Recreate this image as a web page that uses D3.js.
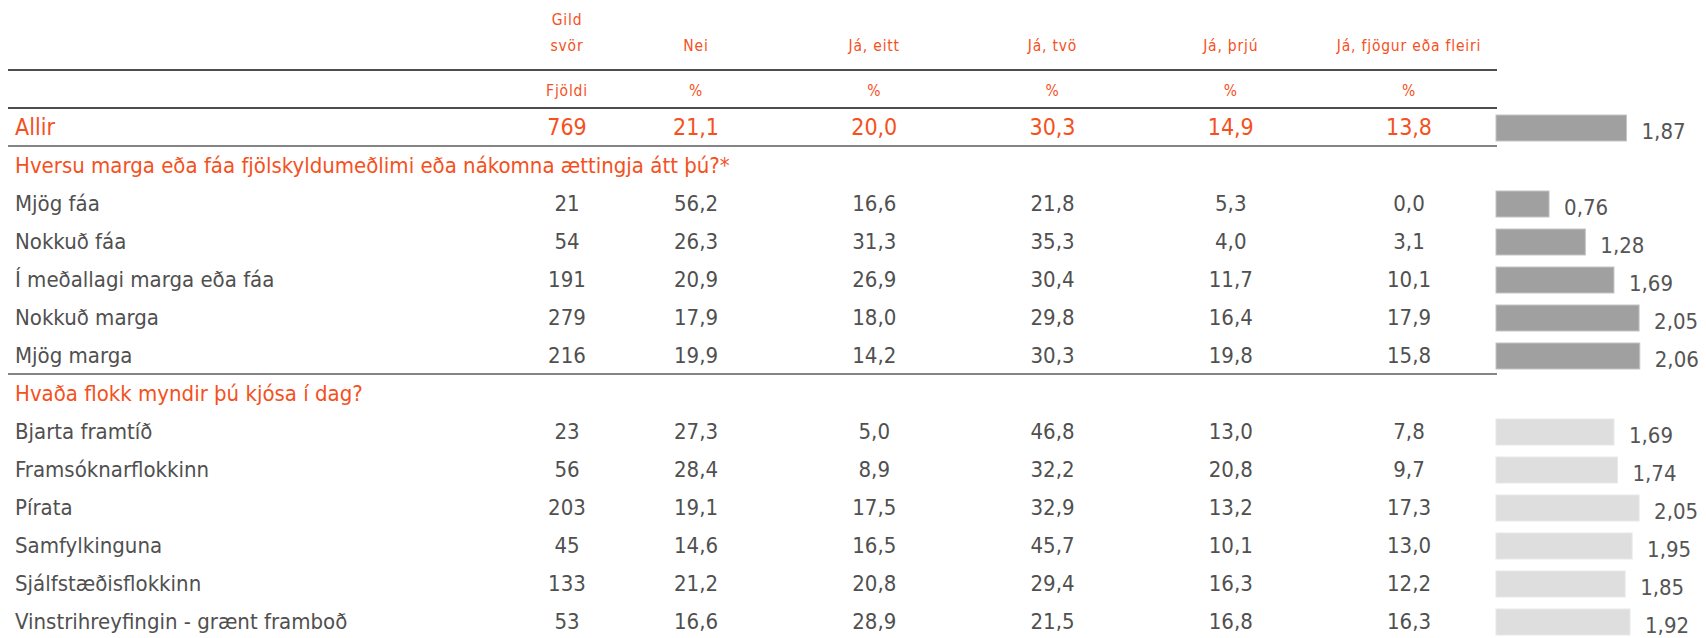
<!DOCTYPE html>
<html>
<meta charset="utf-8">
<head>
  <script src="https://cdnjs.cloudflare.com/ajax/libs/d3/7.8.5/d3.min.js"></script>
  <style>
    body { margin: 0; background: #fff; }
    text { font-family: "Liberation Sans Narrow", "DejaVu Sans Condensed", sans-serif; }
  </style>
</head>
<body>
<script>
  // table data
  const columns = ["Nei", "Já, eitt", "Já, tvö", "Já, þrjú", "Já, fjögur eða fleiri"];
  const sections = ["Hversu marga eða fáa fjölskyldumeðlimi eða nákomna ættingja átt þú?*", "Hvaða flokk myndir þú kjósa í dag?"];
  const groups = ["Mjög fáa", "Nokkuð fáa", "Í meðallagi marga eða fáa", "Nokkuð marga", "Mjög marga"];
  const parties = ["Bjarta framtíð", "Framsóknarflokkinn", "Pírata", "Samfylkinguna", "Sjálfstæðisflokkinn", "Vinstrihreyfingin - grænt framboð"];

  const totalN = 769;
  const totalPct = [21.1, 20.0, 30.3, 14.9, 13.8];
  const totalMean = 1.87;

  const groupN = [21, 54, 191, 279, 216];
  const groupPct = [
    [56.2, 16.6, 21.8, 5.3, 0.0],
    [26.3, 31.3, 35.3, 4.0, 3.1],
    [20.9, 26.9, 30.4, 11.7, 10.1],
    [17.9, 18.0, 29.8, 16.4, 17.9],
    [19.9, 14.2, 30.3, 19.8, 15.8]
  ];
  const groupMean = [0.76, 1.28, 1.69, 2.05, 2.06];

  const partyN = [23, 56, 203, 45, 133, 53];
  const partyPct = [
    [27.3, 5.0, 46.8, 13.0, 7.8],
    [28.4, 8.9, 32.2, 20.8, 9.7],
    [19.1, 17.5, 32.9, 13.2, 17.3],
    [14.6, 16.5, 45.7, 10.1, 13.0],
    [21.2, 20.8, 29.4, 16.3, 12.2],
    [16.6, 28.9, 21.5, 16.8, 16.3]
  ];
  const partyMean = [1.69, 1.74, 2.05, 1.95, 1.85, 1.92];

  const width = 1706, height = 638;
  const orange = "#f4511e", grey = "#505050";
  const fmt = v => d3.format(".1f")(v).replace(".", ",");
  const fmt2 = v => d3.format(".2f")(v).replace(".", ",");

  // build rows
  const rows = [];
  rows.push({key: "Allir", label: "Allir", n: totalN, pct: totalPct, mean: totalMean, type: "total"});
  rows.push({key: "s0", label: sections[0], type: "section"});
  groups.forEach((g, i) => rows.push({key: "g" + i, label: g, n: groupN[i], pct: groupPct[i], mean: groupMean[i], type: "group"}));
  rows.push({key: "s1", label: sections[1], type: "section"});
  parties.forEach((p, i) => rows.push({key: "p" + i, label: p, n: partyN[i], pct: partyPct[i], mean: partyMean[i], type: "party"}));

  const svg = d3.select("body").append("svg")
    .attr("width", width)
    .attr("height", height);

  const y = d3.scaleBand()
    .domain(rows.map(d => d.key))
    .range([108, 108 + rows.length * 38]);

  const xCol = d3.scalePoint()
    .domain(columns)
    .range([696, 1409]);
  const xN = 567;

  const barX0 = 1496;
  const xBar = d3.scaleLinear()
    .domain([0, 1])
    .range([0, 69.8]);

  // header
  const head = svg.append("g").attr("fill", orange).attr("font-size", 15.5)
    .attr("text-anchor", "middle").attr("letter-spacing", 0.8);
  head.append("text").attr("x", xN).attr("y", 25).text("Gild");
  head.append("text").attr("x", xN).attr("y", 51).text("svör");
  head.append("text").attr("x", xN).attr("y", 96).text("Fjöldi");
  head.selectAll(".col").data(columns).join("text")
    .attr("x", d => xCol(d)).attr("y", 51).text(d => d);
  head.selectAll(".pct").data(columns).join("text")
    .attr("x", d => xCol(d)).attr("y", 96).text("%");

  // rules
  svg.append("line").attr("x1", 8).attr("x2", 1497).attr("y1", 70).attr("y2", 70)
    .attr("stroke", "#4d4d4d").attr("stroke-width", 2);
  svg.append("line").attr("x1", 8).attr("x2", 1497).attr("y1", 108).attr("y2", 108)
    .attr("stroke", "#4d4d4d").attr("stroke-width", 2);
  ["s0", "s1"].forEach(k => {
    svg.append("line").attr("x1", 8).attr("x2", 1497)
      .attr("y1", y(k)).attr("y2", y(k))
      .attr("stroke", "#858585").attr("stroke-width", 2);
  });

  // rows
  const row = svg.selectAll(".row").data(rows).join("g")
    .attr("class", "row")
    .attr("transform", d => `translate(0,${y(d.key) + y.bandwidth() / 2})`);

  row.append("text")
    .attr("x", 15).attr("dy", "0.36em")
    .attr("font-size", d => d.type === "total" ? 23 : 22)
    .attr("fill", d => d.type === "total" || d.type === "section" ? orange : grey)
    .text(d => d.label);

  const dataRows = row.filter(d => d.type !== "section");

  dataRows.append("text")
    .attr("x", xN).attr("dy", "0.36em").attr("text-anchor", "middle")
    .attr("font-size", d => d.type === "total" ? 23 : 22)
    .attr("fill", d => d.type === "total" ? orange : grey)
    .text(d => d.n);

  dataRows.selectAll(".v").data(d => d.pct.map((v, i) => ({v, col: columns[i], total: d.type === "total"})))
    .join("text")
    .attr("x", d => xCol(d.col)).attr("dy", "0.36em").attr("text-anchor", "middle")
    .attr("font-size", d => d.total ? 23 : 22)
    .attr("fill", d => d.total ? orange : grey)
    .text(d => fmt(d.v));

  // mean bars
  const barH = 26;
  dataRows.append("rect")
    .attr("x", barX0)
    .attr("y", -barH / 2 + 1)
    .attr("width", d => xBar(d.mean))
    .attr("height", barH)
    .attr("fill", d => d.type === "party" ? "#dedede" : "#a0a0a0")
    .attr("stroke", d => d.type === "party" ? "#e8e8e8" : "#c4c4c4")
    .attr("stroke-width", 1);

  dataRows.append("text")
    .attr("x", d => barX0 + xBar(d.mean) + 15)
    .attr("y", barH / 2 - 1)
    .attr("font-size", 22)
    .attr("fill", "#555")
    .text(d => fmt2(d.mean));
</script>
</body>
</html>
